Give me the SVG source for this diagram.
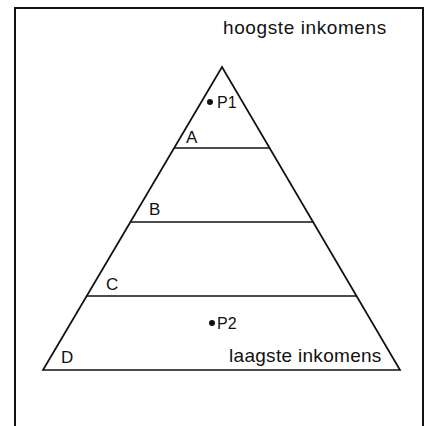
<svg xmlns="http://www.w3.org/2000/svg" width="432" height="426" viewBox="0 0 432 426">
<style>
.frame{fill:none;stroke:#111;stroke-width:2}
.ln{fill:none;stroke:#111;stroke-width:1.7;stroke-linejoin:miter}
.lbl{font-family:"Liberation Sans",Arial,sans-serif;font-size:19px;fill:#111}
.pt{font-family:"Liberation Sans",Arial,sans-serif;font-size:16px;fill:#111}
.seg{font-family:"Liberation Sans",Arial,sans-serif;font-size:17px;fill:#111}
.dot{fill:#111}
</style>
<rect class="frame" x="15" y="8" width="408" height="430"/>
<g id="pyramid">
<polygon class="ln" points="222,67 43,370 400,370"/>
</g>
<g id="connectors">
<line class="ln" x1="174" y1="148" x2="270" y2="148"/>
<line class="ln" x1="130.5" y1="222" x2="313.5" y2="222"/>
<line class="ln" x1="87" y1="296" x2="356.5" y2="296"/>
</g>
<g id="top-label"><text class="lbl" x="223" y="34" letter-spacing="0.6">hoogste inkomens</text></g>
<g id="bottom-label"><text class="lbl" x="229" y="362" letter-spacing="0.3">laagste inkomens</text></g>
<g id="P1"><circle class="dot" cx="210" cy="102" r="3"/><text class="pt" x="217" y="108">P1</text></g>
<g id="P2"><circle class="dot" cx="212" cy="323" r="3"/><text class="pt" x="217" y="329">P2</text></g>
<g id="A"><text class="seg" x="186" y="143">A</text></g>
<g id="B"><text class="seg" x="149" y="215">B</text></g>
<g id="C"><text class="seg" x="106" y="290">C</text></g>
<g id="D"><text class="seg" x="61" y="363">D</text></g>
</svg>
